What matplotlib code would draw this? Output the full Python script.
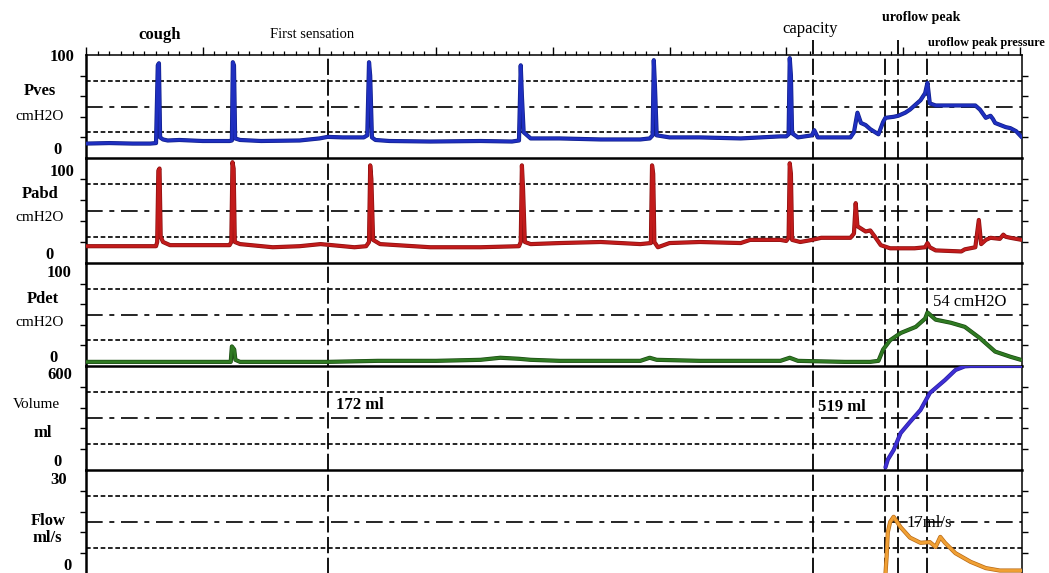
import numpy as np
import matplotlib
matplotlib.use("Agg")
import matplotlib.pyplot as plt
import matplotlib.patheffects as pe

# ---------------- data (time in s, values in panel units) ----------------
pves_t = [0, 20, 40, 55, 60, 61.5, 62.5, 63.5, 66, 70, 80, 100, 123, 125, 125.8, 126.8, 127.8, 132,
          150, 183, 200, 207, 220, 238, 241, 242.5, 243.5, 245, 248, 260, 295, 338, 365, 371, 372.5,
          373.5, 375, 381, 406, 441, 475, 483, 485.5, 486.5, 487.5, 489, 500, 526, 561, 595, 600, 602,
          603, 604, 605, 610, 622, 624, 627, 655, 658, 661, 664, 668, 672, 679, 683, 685, 692, 696, 702,
          706, 711, 715, 719, 721, 723, 728, 762, 766, 771, 775, 777, 779, 788, 792, 797, 802]
pves_v = [14, 14.5, 14, 14, 14.5, 90, 92, 20, 18, 17, 17.5, 16.5, 16.5, 17, 93, 90, 19, 17.5,
          16.5, 17, 19, 20.5, 20, 20, 22, 93, 80, 20, 17.5, 16.5, 16, 16.5, 16, 17, 90,
          60, 25, 19, 19, 18, 18, 19, 22, 95, 70, 22, 20, 20, 19, 21, 21, 23,
          97, 80, 24, 20, 22, 27, 20, 20, 25, 44, 34, 32, 28, 23, 35, 39, 40, 41, 44,
          47, 52, 56, 63, 73, 53, 51, 51, 47, 39, 41, 38, 34, 30, 29, 26, 20]

pabd_t = [0, 40, 60, 61, 62, 63, 64, 66, 72, 100, 123, 124.5, 125.5, 126.5, 127.5, 132, 160, 183,
          201, 230, 240, 242.5, 243.5, 244.5, 246, 252, 295, 338, 371, 372.5, 373.5, 374.5, 376, 381,
          406, 441, 475, 484, 485, 486, 487, 490, 500, 526, 561, 569, 595, 600, 602, 603, 604, 605,
          612, 622, 630, 655, 658, 659.5, 661, 668, 672, 676, 681, 689, 710, 719, 721, 723, 728, 750,
          753, 762, 765, 767, 771, 775, 783, 786, 788, 792, 802]
pabd_v = [16, 16, 16, 20, 88, 90, 25, 20, 17, 17, 17, 20, 96, 90, 20, 18, 15, 16,
          18, 15, 16, 20, 93, 80, 22, 18, 15, 15, 16, 20, 93, 70, 20, 18,
          19, 20, 18, 19, 93, 85, 20, 15, 19, 20, 19, 22, 22, 21, 24, 95, 85, 22,
          20, 22, 24, 24, 28, 57, 35, 30, 31, 25, 17, 14, 14, 15, 19, 15, 12, 11,
          13, 15, 41, 18, 22, 24, 23, 27, 25, 24, 22]

pdet_t = [0, 50, 100, 124, 125, 127, 128, 132, 207, 250, 300, 338, 355, 371, 381, 406, 441, 475,
          483, 489, 526, 561, 595, 603, 610, 650, 672, 679, 683, 689, 698, 711, 719, 721, 728, 741,
          753, 766, 779, 792, 801]
pdet_v = [4, 4, 4, 4, 19, 16, 6, 4, 4, 5, 5, 6, 8, 7, 6, 5, 5, 5,
          8, 6, 5, 5, 5, 8, 5, 4, 4, 5, 16, 25, 32, 38, 46, 52, 45, 42,
          38, 27, 14, 9, 6]

vol_t = [685, 687, 692, 698, 706, 715, 723, 736, 745, 753, 758, 802]
vol_v = [15, 60, 115, 213, 277, 346, 444, 519, 577, 598, 600, 600]

flow_t = [685, 686, 687, 689, 692, 694, 698, 706, 715, 723, 728, 732, 736, 745, 758, 771, 783, 802]
flow_v = [0, 5, 12, 15, 16.5, 15.5, 13.5, 10.5, 9, 9.2, 7.8, 10.7, 9, 6, 3.5, 1.7, 1, 1]

events_t = [207, 623, 685, 696, 721]          # first sensation, capacity, flow start, uroflow peak, peak pressure
tall_events = [623, 696]

panels = [
    dict(name="Pves", unit="cmH2O", ymax=100, top="100", t=pves_t, v=pves_v, c="#1f2fc0", e="#10208a"),
    dict(name="Pabd", unit="cmH2O", ymax=100, top="100", t=pabd_t, v=pabd_v, c="#c21b1b", e="#8a1010"),
    dict(name="Pdet", unit="cmH2O", ymax=100, top="100", t=pdet_t, v=pdet_v, c="#2f7a22", e="#1a4a12"),
    dict(name="Volume", unit="ml", ymax=600, top="600", t=vol_t, v=vol_v, c="#3e2fd6", e="#2a1fa0"),
    dict(name="Flow", unit="ml/s", ymax=30, top="30", t=flow_t, v=flow_v, c="#f0a034", e="#b86a18"),
]

# ---------------- layout ----------------
W, H = 1049, 573
fig = plt.figure(figsize=(W / 100, H / 100), dpi=100)
FONT = "Liberation Serif"
left, right = 86 / W, 1022 / W
edges = [55, 158, 263, 366, 470, 574]

def ftxt(x, y, s, size=12, weight="normal", ha="center"):
    fig.text(x / W, 1 - y / H, s, ha=ha, va="center", fontsize=size,
             fontweight=weight, fontfamily=FONT, color="black")

axes = []
for i, p in enumerate(panels):
    y0, y1 = edges[i], edges[i + 1]
    ax = fig.add_axes([left, 1 - y1 / H, right - left, (y1 - y0) / H])
    axes.append(ax)
    ym = p["ymax"]
    ax.set_xlim(0, 802)
    ax.set_ylim(0, ym)
    ax.set_facecolor("none")
    # spines
    ax.spines["left"].set_linewidth(1.8)
    ax.spines["bottom"].set_linewidth(1.8)
    ax.spines["right"].set_linewidth(1.1)
    if i == 0:
        ax.spines["top"].set_linewidth(1.1)
    else:
        ax.spines["top"].set_visible(False)
    # y ticks
    ax.set_yticks([ym * k / 5 for k in range(1, 5)])
    ax.tick_params(axis="y", which="both", left=True, right=True, direction="out",
                   length=4, width=1.0, labelleft=False, labelright=False)
    # x ticks
    if i == 0:
        ax.xaxis.set_ticks_position("top")
        ax.set_xticks(np.arange(0, 802, 100))
        ax.set_xticks(np.arange(0, 802, 10), minor=True)
        ax.tick_params(axis="x", which="major", direction="out", length=6, width=1.0,
                       labeltop=False, labelbottom=False, bottom=False)
        ax.tick_params(axis="x", which="minor", direction="out", length=3, width=0.9,
                       labeltop=False, labelbottom=False, bottom=False)
    else:
        ax.tick_params(axis="x", which="both", bottom=False, top=False,
                       labelbottom=False, labeltop=False)
    # grid lines
    ax.axhline(ym * 0.75, color="black", lw=1.2, linestyle=(0, (2.8, 1.6)), zorder=1)
    ax.axhline(ym * 0.50, color="black", lw=1.2, linestyle=(0, (10, 4, 3, 4)), zorder=1)
    ax.axhline(ym * 0.25, color="black", lw=1.2, linestyle=(0, (2.8, 1.6)), zorder=1)
    # event lines
    for ev in events_t:
        if i == 0 and ev in tall_events:
            ax.axvline(ev, ymin=0, ymax=1.15, color="black", lw=1.3,
                       linestyle=(0, (9, 2.5)), clip_on=False, zorder=1)
        else:
            ax.axvline(ev, color="black", lw=1.3, linestyle=(0, (9, 2.5)), zorder=1)
    # trace
    ax.plot(p["t"], p["v"], color=p["c"], lw=2.0, solid_joinstyle="round",
            solid_capstyle="round", zorder=3,
            path_effects=[pe.Stroke(linewidth=3.0, foreground=p["e"]), pe.Normal()])

# ---------------- texts ----------------
ftxt(62, 57, "100", weight="bold")
ftxt(57, 150, "0", weight="bold")
ftxt(40, 91, "Pves", weight="bold")
ftxt(40, 116, "cmH2O", size=11)

ftxt(62, 172, "100", weight="bold")
ftxt(49, 255, "0", weight="bold")
ftxt(40, 194, "Pabd", weight="bold")
ftxt(40, 218, "cmH2O", size=11)

ftxt(59, 273, "100", weight="bold")
ftxt(53, 358, "0", weight="bold")
ftxt(43, 299, "Pdet", weight="bold")
ftxt(40, 322, "cmH2O", size=11)

ftxt(60, 375, "600", weight="bold")
ftxt(57, 462, "0", weight="bold")
ftxt(36, 405, "Volume", size=11)
ftxt(43, 433, "ml", weight="bold")

ftxt(59, 480, "30", weight="bold")
ftxt(68, 566, "0", weight="bold")
ftxt(48, 521, "Flow", weight="bold")
ftxt(47, 538, "ml/s", weight="bold")

ftxt(160, 35, "cough", weight="bold")
ftxt(312, 34, "First sensation", size=10.5)
ftxt(810, 29, "capacity", size=12)
ftxt(921, 18, "uroflow peak", size=10, weight="bold")
ftxt(928, 43, "uroflow peak pressure", size=8.8, weight="bold", ha="left")

ftxt(336, 405, "172 ml", weight="bold", ha="left")
ftxt(818, 407, "519 ml", weight="bold", ha="left")
ftxt(933, 302, "54 cmH2O", ha="left")
ftxt(906, 523, "17ml/s", ha="left")

fig.savefig("out.png", dpi=100)
